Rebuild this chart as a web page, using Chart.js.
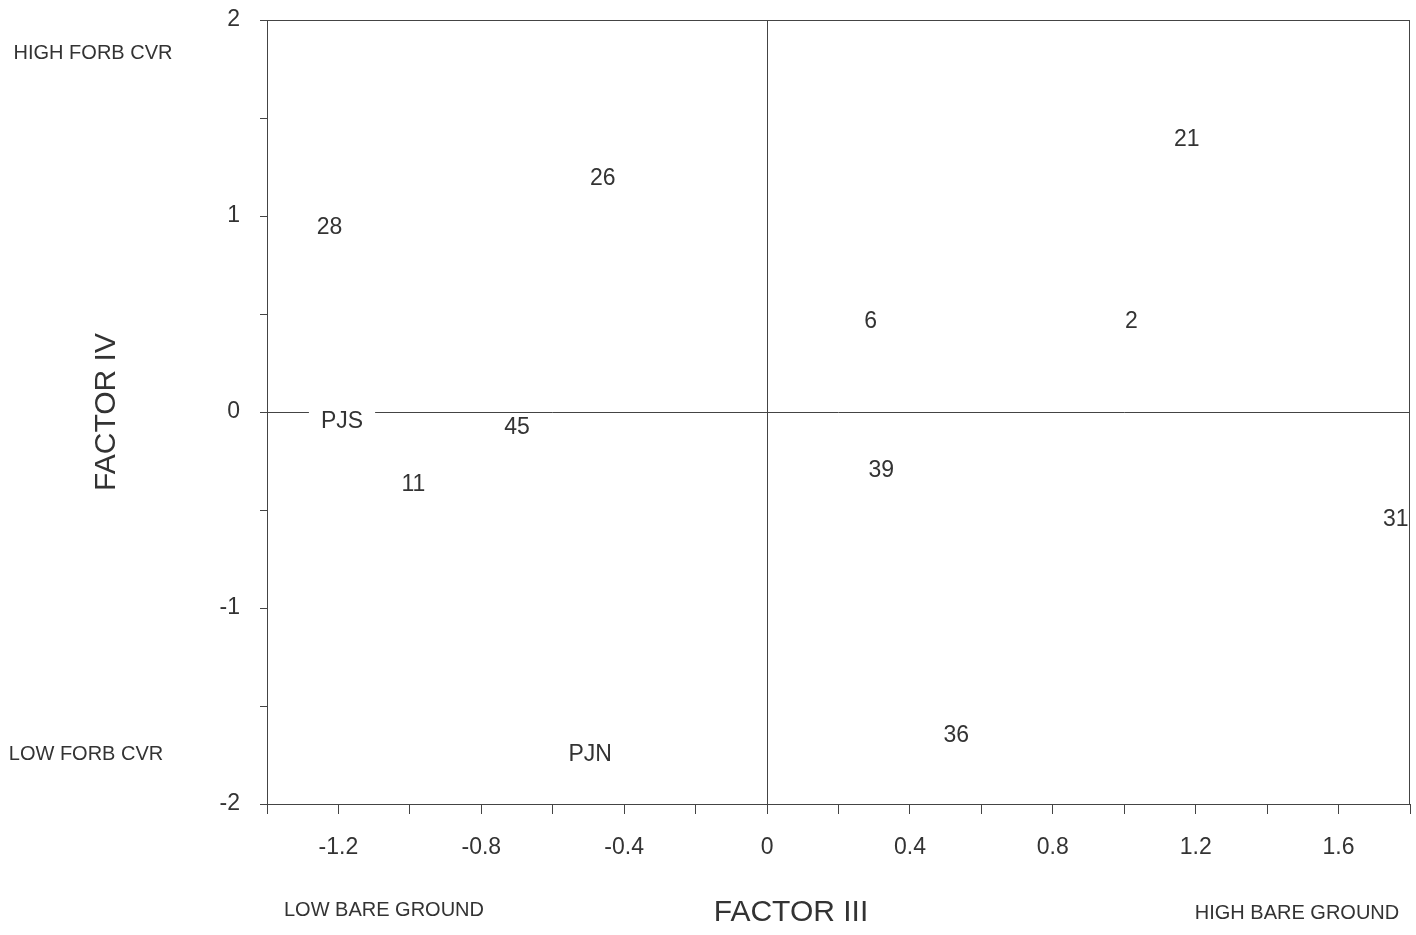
<!DOCTYPE html>
<html>
<head>
<meta charset="utf-8">
<script src="https://cdn.jsdelivr.net/npm/chart.js@4"></script>
<style>
html,body{margin:0;padding:0;background:#fff;}
#wrap{width:1416px;height:935px;position:relative;}
</style>
</head>
<body>
<div id="wrap"><canvas id="c" width="1416" height="935"></canvas></div>
<script>
// Data
const siteLabels = ['28','26','21','6','2','PJS','45','11','39','31','36','PJN'];
const factorIII  = [-1.225,-0.46,1.175,0.29,1.02,-1.19,-0.70,-0.99,0.32,1.76,0.53,-0.495];
const factorIV   = [0.95,1.20,1.40,0.47,0.47,-0.04,-0.07,-0.36,-0.29,-0.54,-1.64,-1.74];
const xTickLabels = ['-1.2','-0.8','-0.4','0','0.4','0.8','1.2','1.6'];
const yTickLabels = ['-2','-1','0','1','2'];

const FONT = '"Liberation Sans", Arial, sans-serif';
const TXT = '#333';
const LINE = '#444';

const points = factorIII.map((x,i)=>({x:x,y:factorIV[i],label:siteLabels[i]}));

const labelPlugin = {
  id:'labels',
  afterDatasetsDraw(chart){
    const ctx = chart.ctx;
    const meta = chart.getDatasetMeta(0);
    ctx.save();
    ctx.font = '23px ' + FONT;
    ctx.textAlign='center'; ctx.textBaseline='middle';
    meta.data.forEach((el,i)=>{
      const t = points[i].label;
      const w = ctx.measureText(t).width;
      ctx.fillStyle='#fff';
      ctx.fillRect(el.x - w/2 - 12, el.y - 10, w + 24, 24);
      ctx.fillStyle=TXT;
      ctx.fillText(t, el.x, el.y + 2);
    });
    ctx.restore();
  },
  afterDraw(chart){
    const ctx = chart.ctx, a = chart.chartArea;
    ctx.save();
    ctx.strokeStyle = LINE; ctx.lineWidth = 1;
    ctx.strokeRect(a.left+0.5, a.top+0.5, a.right-a.left-1, a.bottom-a.top);
    ctx.fillStyle = TXT;
    ctx.textBaseline='middle';
    ctx.font = '20px ' + FONT;
    ctx.textAlign='center';
    ctx.fillText('HIGH FORB CVR', 93, 53);
    ctx.fillText('LOW FORB CVR', 86, 754);
    ctx.fillText('LOW BARE GROUND', 384, 910);
    ctx.fillText('HIGH BARE GROUND', 1297, 913);
    ctx.font = '30px ' + FONT;
    ctx.fillText('FACTOR III', 791, 913);
    ctx.translate(107, 412);
    ctx.rotate(-Math.PI/2);
    ctx.fillText('FACTOR IV', 0, 0);
    ctx.restore();
  }
};

new Chart(document.getElementById('c'), {
  type:'scatter',
  data:{datasets:[{data:points, pointRadius:0, pointHoverRadius:0, showLine:false}]},
  options:{
    responsive:false, animation:false,
    layout:{padding:{left:0, top:20, right:6, bottom:0}},
    plugins:{legend:{display:false}, tooltip:{enabled:false}},
    scales:{
      x:{
        type:'linear', min:-1.4, max:1.8,
        afterBuildTicks(s){ s.ticks = []; for(let k=-7;k<=9;k++) s.ticks.push({value:k/5}); },
        afterFit(s){ s.height = 131; s.paddingLeft = 0; s.paddingRight = 0; },
        border:{display:false},
        grid:{
          drawOnChartArea:true, tickLength:10, tickWidth:1, tickColor:LINE,
          color:(c)=> (c.tick && Math.abs(c.tick.value) < 1e-9) ? LINE : 'rgba(0,0,0,0)',
          lineWidth:1
        },
        ticks:{
          autoSkip:false, maxRotation:0, padding:20, color:TXT, font:{family:FONT,size:23},
          callback:(v)=>{ const s = (Math.round(v*10)/10).toString(); return xTickLabels.includes(s) ? s : ''; }
        }
      },
      y:{
        type:'linear', min:-2, max:2,
        afterBuildTicks(s){ s.ticks = []; for(let k=-4;k<=4;k++) s.ticks.push({value:k/2}); },
        afterFit(s){ s.width = 267; s.paddingTop = 0; s.paddingBottom = 0; },
        border:{display:false},
        grid:{
          drawOnChartArea:true, tickLength:7, tickWidth:1, tickColor:LINE,
          color:(c)=> (c.tick && Math.abs(c.tick.value) < 1e-9) ? LINE : 'rgba(0,0,0,0)',
          lineWidth:1
        },
        ticks:{
          autoSkip:false, padding:20, color:TXT, font:{family:FONT,size:23},
          callback:(v)=>{ const s = (Math.round(v*10)/10).toString(); return yTickLabels.includes(s) ? s : ''; }
        }
      }
    }
  },
  plugins:[labelPlugin]
});
</script>
</body>
</html>
